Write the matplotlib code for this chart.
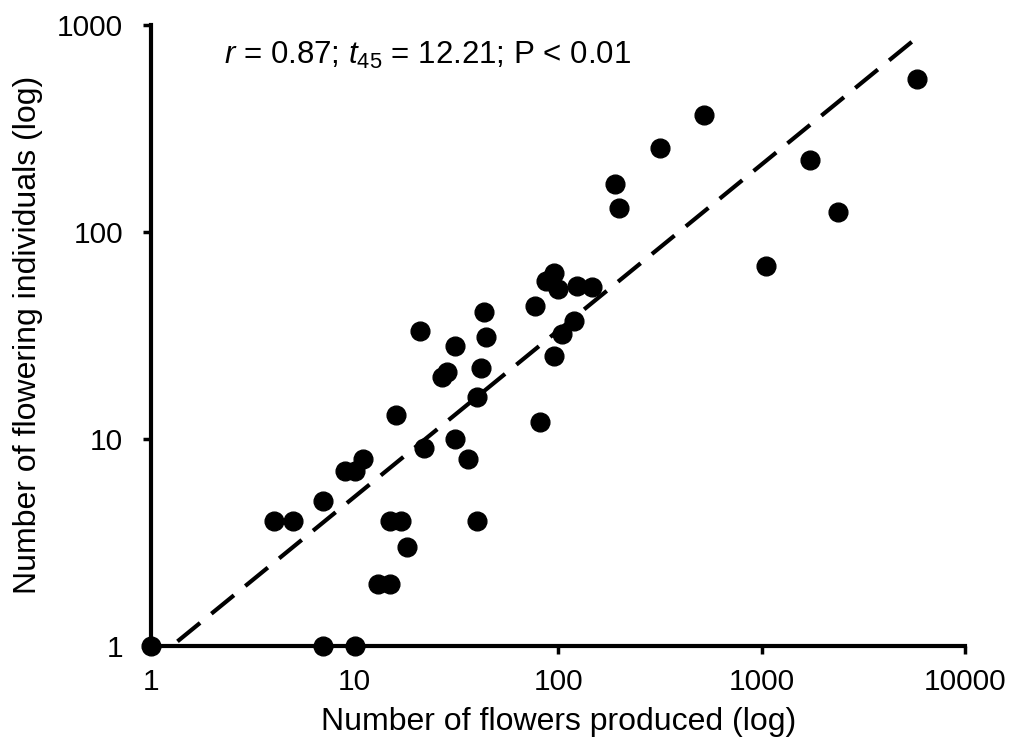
import numpy as np
import matplotlib
matplotlib.use('Agg')
import matplotlib.pyplot as plt

plt.rcParams['font.family'] = ['Liberation Sans', 'DejaVu Sans']
plt.rcParams['mathtext.fontset'] = 'custom'
plt.rcParams['mathtext.rm'] = 'Liberation Sans'
plt.rcParams['mathtext.it'] = 'Liberation Sans:italic'

# flowers produced vs flowering individuals
flowers = [1, 7, 10, 13, 15, 18, 4, 5, 15, 17, 40, 7, 9, 10, 11, 36, 22, 31, 81, 16,
           40, 27, 28.5, 42, 95, 31, 44, 104, 21, 120, 43, 77, 100, 147, 124, 87, 95,
           1050, 2360, 200, 190, 1730, 316, 520, 5800]
individuals = [1, 1, 1, 2, 2, 3, 4, 4, 4, 4, 4, 5, 7, 7, 8, 8, 9, 10, 12, 13,
               16, 20, 21, 22, 25, 28, 31, 32, 33, 37, 41, 44, 53, 54, 55, 58, 63,
               68, 124, 130, 170, 222, 255, 365, 550]

# trend line (log-log) as drawn
slope = 0.803
intercept = -0.083
line_x = [1.35, 5900]

xticks = [1, 10, 100, 1000, 10000]
yticks = [1, 10, 100, 1000]

fig = plt.figure(figsize=(10.13, 7.51), dpi=100)
ax = fig.add_axes([0.149, 0.140, 0.804, 0.827])

lx = np.array(line_x)
ly = 10 ** (intercept + slope * np.log10(lx))
ax.plot(lx, ly, color='black', linewidth=3, linestyle=(0, (7, 3.5)), zorder=2)

ax.plot(flowers, individuals, 'o', color='black', markersize=13.5, clip_on=False, zorder=3)

ax.set_xscale('log')
ax.set_yscale('log')
ax.set_xlim(1, 10000)
ax.set_ylim(1, 1000)
ax.set_xticks(xticks)
ax.set_xticklabels([str(t) for t in xticks])
ax.set_yticks(yticks)
ax.set_yticklabels([str(t) for t in yticks])
ax.minorticks_off()

for s in ['top', 'right']:
    ax.spines[s].set_visible(False)
for s in ['left', 'bottom']:
    ax.spines[s].set_linewidth(3)
ax.tick_params(axis='both', which='major', length=6, width=2.5, labelsize=21.5)
ax.tick_params(axis='x', pad=10)
ax.tick_params(axis='y', pad=14)

ax.set_xlabel('Number of flowers produced (log)', fontsize=23, labelpad=8)
ax.set_ylabel('Number of flowering individuals (log)', fontsize=23, labelpad=10)

ax.text(0.09, 0.95, r'$r$ = 0.87; $t_{45}$ = 12.21; P < 0.01', transform=ax.transAxes,
        fontsize=22.5, va='center', ha='left')

fig.savefig('out.png', dpi=100)
